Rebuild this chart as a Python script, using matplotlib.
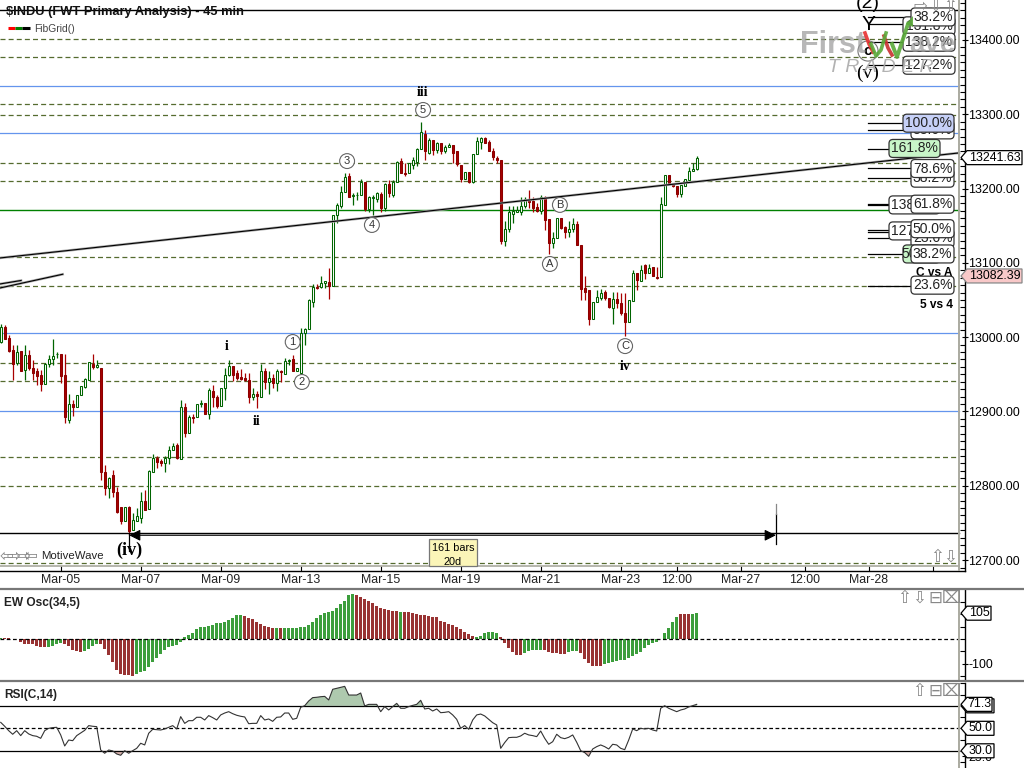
import matplotlib
matplotlib.use("Agg")
import matplotlib.pyplot as plt
from matplotlib.patches import FancyBboxPatch, Polygon
from matplotlib.ticker import MultipleLocator
import numpy as np

plt.rcParams['font.family'] = ['Liberation Sans', 'DejaVu Sans']

# candles, one value per 45 min bar
opens = [
    12994, 13014, 12999, 12983, 12965, 12981, 12956, 12976, 12959, 12955,
    12949, 12937, 12964, 12970, 12977, 12977, 12949, 12889, 12910, 12906,
    12922, 12933, 12942, 12964, 12960, 12958, 12818, 12797, 12814, 12792,
    12771, 12752, 12772, 12740, 12752, 12756, 12779, 12769, 12819, 12838,
    12833, 12831, 12837, 12848, 12855, 12836, 12906, 12871, 12893, 12892,
    12910, 12911, 12897, 12928, 12919, 12908, 12931, 12949, 12961, 12952,
    12946, 12945, 12943, 12919, 12923, 12920, 12954, 12939, 12945, 12938,
    12955, 12951, 12968, 12970, 12954, 12952, 13005, 13011, 13048, 13067,
    13067, 13073, 13074, 13069, 13164, 13177, 13196, 13217, 13190, 13191,
    13192, 13209, 13173, 13187, 13186, 13193, 13174, 13206, 13191, 13209,
    13237, 13221, 13221, 13232, 13236, 13253, 13274, 13248, 13266, 13252,
    13262, 13251, 13256, 13259, 13251, 13232, 13213, 13222, 13209, 13247,
    13263, 13268, 13263, 13251, 13241, 13239, 13130, 13145, 13166, 13169,
    13169, 13176, 13186, 13183, 13175, 13170, 13188, 13159, 13127, 13134,
    13160, 13148, 13142, 13146, 13152, 13124, 13066, 13063, 13025, 13048,
    13053, 13061, 13053, 13039, 13052, 13046, 13033, 13020, 13049, 13087,
    13075, 13097, 13086, 13094, 13081, 13081, 13178, 13218, 13208, 13204,
    13193, 13204, 13212, 13223, 13227]
highs = [
    13018, 13016, 13003, 12989, 12989, 12981, 12989, 12983, 12969, 12958,
    12956, 12965, 12976, 12998, 12980, 12977, 12978, 12923, 12915, 12922,
    12934, 12945, 12967, 12977, 12969, 12958, 12828, 12812, 12821, 12798,
    12772, 12772, 12773, 12763, 12770, 12792, 12794, 12821, 12843, 12840,
    12836, 12840, 12853, 12857, 12857, 12916, 12911, 12895, 12897, 12910,
    12916, 12911, 12931, 12936, 12922, 12931, 12958, 12969, 12961, 12956,
    12957, 12952, 12952, 12932, 12927, 12964, 12958, 12954, 12951, 12957,
    12956, 12972, 12970, 12976, 12959, 13013, 13013, 13051, 13072, 13072,
    13082, 13076, 13093, 13164, 13180, 13203, 13221, 13221, 13194, 13196,
    13213, 13209, 13190, 13191, 13195, 13195, 13207, 13211, 13212, 13237,
    13241, 13234, 13235, 13243, 13254, 13289, 13279, 13268, 13266, 13263,
    13262, 13259, 13261, 13259, 13251, 13232, 13222, 13222, 13247, 13269,
    13270, 13270, 13265, 13254, 13244, 13239, 13156, 13176, 13176, 13177,
    13188, 13189, 13198, 13189, 13180, 13191, 13190, 13159, 13141, 13161,
    13160, 13150, 13156, 13160, 13157, 13124, 13082, 13063, 13048, 13064,
    13065, 13064, 13053, 13061, 13061, 13059, 13059, 13050, 13090, 13087,
    13097, 13099, 13099, 13095, 13095, 13189, 13218, 13218, 13208, 13204,
    13205, 13213, 13229, 13234, 13244]
lows = [
    12992, 12997, 12980, 12942, 12963, 12955, 12942, 12956, 12942, 12936,
    12927, 12937, 12960, 12963, 12972, 12938, 12884, 12884, 12894, 12906,
    12922, 12931, 12942, 12957, 12958, 12808, 12788, 12784, 12785, 12763,
    12749, 12752, 12734, 12740, 12752, 12750, 12768, 12769, 12818, 12824,
    12827, 12818, 12829, 12848, 12836, 12836, 12865, 12871, 12885, 12892,
    12906, 12897, 12890, 12906, 12905, 12908, 12915, 12948, 12941, 12942,
    12942, 12941, 12912, 12915, 12905, 12920, 12930, 12923, 12932, 12927,
    12940, 12950, 12963, 12955, 12954, 12952, 12989, 13011, 13041, 13065,
    13066, 13066, 13052, 13069, 13153, 13174, 13196, 13188, 13178, 13185,
    13192, 13170, 13168, 13164, 13182, 13169, 13170, 13188, 13189, 13209,
    13221, 13217, 13221, 13227, 13230, 13253, 13239, 13247, 13245, 13248,
    13247, 13248, 13256, 13235, 13230, 13209, 13213, 13208, 13207, 13247,
    13253, 13261, 13250, 13239, 13234, 13126, 13123, 13141, 13153, 13168,
    13164, 13174, 13174, 13169, 13168, 13166, 13144, 13112, 13120, 13134,
    13145, 13134, 13135, 13142, 13124, 13050, 13050, 13017, 13025, 13048,
    13050, 13050, 13039, 13018, 13039, 13030, 13002, 13020, 13049, 13064,
    13075, 13078, 13086, 13082, 13078, 13081, 13178, 13208, 13202, 13189,
    13189, 13204, 13212, 13223, 13225]
closes = [
    13014, 12998, 12982, 12964, 12980, 12955, 12976, 12958, 12952, 12948,
    12937, 12964, 12970, 12975, 12978, 12948, 12892, 12910, 12906, 12922,
    12934, 12944, 12966, 12960, 12962, 12818, 12797, 12811, 12792, 12765,
    12752, 12772, 12739, 12754, 12759, 12779, 12768, 12820, 12838, 12832,
    12831, 12838, 12848, 12854, 12837, 12906, 12871, 12893, 12891, 12910,
    12911, 12897, 12929, 12919, 12908, 12931, 12949, 12961, 12949, 12945,
    12944, 12942, 12919, 12923, 12921, 12954, 12939, 12945, 12938, 12954,
    12953, 12968, 12969, 12955, 12959, 13005, 13011, 13050, 13068, 13066,
    13073, 13075, 13069, 13164, 13178, 13196, 13215, 13189, 13192, 13192,
    13209, 13173, 13189, 13189, 13194, 13174, 13206, 13194, 13209, 13236,
    13221, 13219, 13234, 13239, 13253, 13276, 13250, 13266, 13252, 13262,
    13250, 13256, 13259, 13248, 13233, 13213, 13222, 13209, 13247, 13264,
    13268, 13262, 13251, 13243, 13239, 13130, 13145, 13168, 13170, 13171,
    13176, 13186, 13182, 13174, 13170, 13188, 13158, 13127, 13134, 13161,
    13147, 13142, 13145, 13152, 13124, 13065, 13061, 13025, 13048, 13054,
    13060, 13053, 13040, 13052, 13046, 13032, 13020, 13050, 13087, 13077,
    13091, 13087, 13093, 13082, 13079, 13179, 13218, 13208, 13203, 13193,
    13205, 13213, 13224, 13227, 13241]

ew_osc = [
    3, 3, 3, 0, -1, -14, -20, -20, -20, -28,
    -33, -33, -33, -30, -20, -18, -20, -30, -45, -50,
    -53, -49, -42, -30, -19, -22, -41, -64, -95, -126,
    -141, -146, -146, -149, -144, -136, -130, -113, -94, -79,
    -61, -46, -33, -30, -24, -12, 9, 16, 26, 42,
    47, 50, 54, 58, 65, 66, 71, 79, 87, 96,
    98, 92, 85, 80, 68, 62, 54, 50, 46, 45,
    43, 45, 45, 45, 46, 47, 50, 57, 68, 84,
    98, 106, 111, 114, 125, 142, 156, 179, 182, 179,
    172, 161, 155, 145, 136, 127, 122, 119, 115, 113,
    111, 111, 108, 104, 102, 98, 98, 95, 91, 88,
    75, 68, 60, 57, 47, 39, 30, 19, 14, 7,
    14, 23, 28, 28, 26, 9, -18, -38, -52, -65,
    -65, -57, -47, -43, -43, -43, -43, -52, -57, -57,
    -61, -61, -54, -47, -47, -58, -81, -98, -108, -108,
    -108, -103, -96, -92, -88, -85, -85, -79, -69, -61,
    -52, -35, -24, -15, -11, 0, 23, 46, 71, 88,
    102, 102, 102, 102, 106]
# runs of bars drawn in the falling colour, the rest are green
ew_red_runs = [(1, 11), (16, 20), (25, 33), (61, 68), (70, 70), (89, 99),
               (101, 118), (125, 130), (136, 141), (145, 150), (170, 172)]

rsi = [
    55.3, 51.8, 47.9, 44.7, 47.9, 43.5, 47.9, 45.0, 43.5, 42.9,
    41.1, 47.9, 50.0, 50.6, 50.9, 44.1, 34.3, 39.6, 39.0, 43.5,
    45.9, 48.2, 52.4, 51.8, 51.5, 30.7, 27.8, 30.7, 29.9, 27.2,
    26.0, 30.1, 27.8, 30.1, 32.2, 36.7, 35.2, 45.6, 49.1, 48.8,
    48.5, 49.4, 50.9, 52.4, 49.4, 60.4, 54.4, 56.8, 56.8, 59.8,
    59.8, 57.4, 61.3, 59.5, 57.4, 61.9, 63.6, 64.8, 63.0, 61.6,
    60.7, 60.1, 54.1, 54.4, 54.4, 61.3, 57.4, 58.3, 56.2, 59.8,
    60.1, 63.6, 63.6, 58.0, 58.9, 68.7, 70.1, 74.3, 77.3, 77.6,
    78.1, 78.4, 75.2, 84.7, 85.6, 86.4, 87.3, 79.6, 79.6, 79.6,
    81.4, 69.9, 71.3, 71.3, 71.3, 64.8, 69.3, 66.3, 69.3, 72.2,
    67.8, 67.8, 69.3, 70.4, 71.3, 74.9, 67.2, 67.8, 65.4, 67.2,
    63.9, 64.2, 64.8, 61.9, 58.0, 50.0, 52.4, 49.1, 57.4, 61.9,
    62.7, 61.0, 58.0, 55.0, 53.0, 32.2, 37.3, 41.7, 42.0, 42.0,
    43.2, 45.6, 44.1, 43.5, 42.6, 47.6, 41.1, 35.8, 38.1, 44.7,
    41.7, 40.8, 42.0, 44.1, 37.6, 30.1, 28.4, 25.1, 31.6, 33.7,
    35.2, 33.7, 31.6, 35.8, 35.2, 32.2, 31.0, 39.6, 49.4, 47.9,
    50.0, 49.4, 50.0, 48.5, 47.6, 67.8, 70.1, 67.8, 66.3, 64.8,
    66.3, 67.2, 69.0, 70.1, 71.3]

# fib grid levels
dashed_levels = [13401, 13377, 13314, 13299, 13234.5, 13210, 13108, 13069,
                 12965, 12941, 12839, 12800, 12696]
blue_levels = [13338, 13275, 13005, 12901]
green_levels = [13170.5]
black_levels = [13440, 12736]

# trend lines: (bar, price), (bar, price)
trend_lines = [((-0.2, 13106.6), (239.6, 13248)),
               ((-0.2, 13066.2), (15.5, 13084.7)),
               ((-0.2, 13071.6), (5.1, 13076.3))]

# bars 32 to 193 are measured
measure_start, measure_end, measure_price = 32.1, 193.8, 12733.4

# x axis ticks
tick_bars = [15, 35, 55, 75, 95, 115, 135, 155, 169, 185, 201, 217, 233]
tick_labels = ['Mar-05', 'Mar-07', 'Mar-09', 'Mar-13', 'Mar-15', 'Mar-19', 'Mar-21',
               'Mar-23', '12:00', 'Mar-27', '12:00', 'Mar-28', '']

# wave labels: text, bar, price
circle_labels = [('1', 73, 12993.5), ('2', 75.3, 12939.7), ('3', 86.6, 13237),
                 ('4', 92.8, 13151), ('5', 105.6, 13305.8), ('A', 137.3, 13098.5),
                 ('B', 139.8, 13178), ('C', 156.1, 12988)]
serif_labels = [('i', 56.6, 12987, 10), ('ii', 64, 12886, 10), ('iii', 105.4, 13329, 10),
                ('iv', 156.2, 12961, 10), ('(iv)', 32.2, 12713.6, 13)]

# fib ratio stubs drawn from bar 217 towards the boxes
stub_prices = [13431.4, 13421.5, 13396.9, 13366.4, 13287.9, 13278.5, 13252.9, 13227.3,
               13213.9, 13179.3, 13177.9, 13144.3, 13142, 13133.1, 13111.6, 13069.3]
# text, price, left edge px, right edge px, fill; later ones cover earlier ones
fib_boxes = [('131.8%', 13419, 903, 955, 'white'),
             ('38.2%', 13431, 911, 955, 'white'),
             ('138.2%', 13397, 903, 955, 'white'),
             ('127.2%', 13366, 903, 955, 'white'),
             ('88.6%', 13279, 911, 954, 'white'),
             ('100.0%', 13288, 903, 954, '#c6d0f7'),
             ('161.8%', 13254, 889, 940, '#c8f5c8'),
             ('38.2%', 13214, 911, 954, 'white'),
             ('78.6%', 13227, 911, 954, 'white'),
             ('138.2%', 13178, 889, 940, 'white'),
             ('61.8%', 13179, 911, 954, 'white'),
             ('127.2%', 13143, 889, 940, 'white'),
             ('23.6%', 13133, 911, 954, 'white'),
             ('50.0%', 13146, 911, 954, 'white'),
             ('50.0%', 13112, 903, 940, '#c8f5c8'),
             ('38.2%', 13112, 911, 954, 'white'),
             ('23.6%', 13070, 911, 954, 'white')]

GREEN = '#006400'
RED = '#a80000'
OLIVE = '#556b2f'
BLUE = '#6495ed'
TICKFONT = 8.9
X_LEFT, X_FRAME = -0.175, 239.6


def make_axes(fig, top, bottom, ylim):
    """ Panel from pixel rows top to bottom, bars run at 4 px each. """
    ax = fig.add_axes([0, (768 - bottom) / 768, 965 / 1024, (bottom - top) / 768])
    ax.set_xlim(X_LEFT, 241.075)
    ax.set_ylim(*ylim)
    for side in ['left', 'top', 'bottom']:
        ax.spines[side].set_visible(False)
    ax.spines['right'].set_linewidth(1.0)
    ax.yaxis.tick_right()
    ax.set_xticks([])
    ax.tick_params(axis='y', which='major', direction='inout', length=5, width=0.8,
                   labelsize=TICKFONT, pad=0)
    ax.tick_params(axis='y', which='minor', direction='in', length=3.5, width=0.8)
    ax.axvline(X_FRAME, color='#aaaaa0', lw=1.4, zorder=6)
    return ax


def hline(ax, value, **kwargs):
    ax.plot([X_LEFT, X_FRAME], [value, value], **kwargs)


def plot_candles(ax):
    x = np.arange(len(opens))
    o, c = np.array(opens), np.array(closes)
    up = c >= o
    colors = np.where(up, GREEN, RED)
    ax.vlines(x, lows, highs, colors=colors, lw=0.9, zorder=3)
    bottoms = np.minimum(o, c)
    heights = np.maximum(np.abs(c - o), 0.6)
    ax.bar(x[up], heights[up], bottom=bottoms[up], width=0.6, facecolor='white',
           edgecolor=GREEN, linewidth=0.75, zorder=4)
    ax.bar(x[~up], heights[~up], bottom=bottoms[~up], width=0.6, facecolor=RED,
           edgecolor='#8c0000', linewidth=0.75, zorder=4)


def plot_main(ax):
    for level in dashed_levels:
        hline(ax, level, color=OLIVE, lw=0.9, ls=(0, (4, 2.5)), zorder=1)
    for level in blue_levels:
        hline(ax, level, color=BLUE, lw=0.9, zorder=1)
    for level in green_levels:
        hline(ax, level, color='#008000', lw=1.0, zorder=1)
    for level in black_levels:
        hline(ax, level, color='black', lw=1.0, zorder=2)
    # gray bottom frame line a few pixels over the date axis
    hline(ax, 12692, color='#aaaaa0', lw=1.2, zorder=2)

    plot_candles(ax)

    for (x0, y0), (x1, y1) in trend_lines:
        ax.plot([x0, x1], [y0, y1], color='#aaaaaa', lw=1.8, zorder=5)
        ax.plot([x0, x1], [y0, y1], color='black', lw=0.8, zorder=5)

    # bar count measure
    ax.annotate('', xy=(measure_start, measure_price), xytext=(measure_end, measure_price),
                arrowprops=dict(arrowstyle='<|-|>', color='black', lw=0.8, mutation_scale=17,
                                shrinkA=0, shrinkB=0), zorder=5)
    ax.plot([measure_start, measure_start], [12736, 12712], color='black', lw=0.9, zorder=5)
    ax.plot([measure_end, measure_end], [12722, 12762], color='black', lw=0.9, zorder=5)
    ax.plot([measure_end, measure_end], [12762, 12775], color='#888888', lw=0.9, zorder=5)

    for text, bar, price in circle_labels:
        ax.text(bar, price, text, ha='center', va='center', fontsize=8, color='#333333', zorder=7,
                bbox=dict(boxstyle='circle,pad=0.22', fc='white', ec='#666666', lw=0.8))
    for text, bar, price, size in serif_labels:
        ax.text(bar, price, text, ha='center', va='center', fontsize=size, fontweight='bold',
                family='Liberation Serif', zorder=7)

    ax.set_xticks(tick_bars)
    ax.set_xticklabels(tick_labels, fontsize=TICKFONT, color='#222222')
    ax.tick_params(axis='x', direction='in', length=3.6, width=0.8, pad=2)
    ax.spines['bottom'].set_visible(True)
    ax.spines['bottom'].set_linewidth(1.0)
    ax.set_yticks(np.arange(12700, 13500, 100))
    ax.set_yticklabels(['%.2f' % t for t in np.arange(12700, 13500, 100)])
    ax.yaxis.set_minor_locator(MultipleLocator(10))


def plot_osc(ax):
    colors = ['#3c9e3c'] * len(ew_osc)
    for start, end in ew_red_runs:
        for i in range(start, end + 1):
            colors[i] = '#993333'
    ax.bar(np.arange(len(ew_osc)), ew_osc, width=0.72, color=colors, zorder=3)
    hline(ax, 0, color='black', lw=0.9, ls=(0, (3, 2)), zorder=4)
    ax.set_yticks([-100])
    ax.set_yticklabels(['-100'])
    ax.yaxis.set_minor_locator(MultipleLocator(50))


def plot_rsi(ax):
    x = np.arange(len(rsi))
    values = np.array(rsi)
    ax.fill_between(x, values, 70, where=values >= 70, interpolate=True, color='#aec9ae', lw=0, zorder=2)
    ax.fill_between(x, values, 30, where=values <= 30, interpolate=True, color='#d9b3ae', lw=0, zorder=2)
    hline(ax, 70, color='black', lw=0.9, zorder=3)
    hline(ax, 50, color='black', lw=0.9, ls=(0, (3, 2)), zorder=3)
    hline(ax, 30, color='black', lw=0.9, zorder=3)
    ax.plot(x, values, color='#333333', lw=0.8, zorder=4)
    ax.set_yticks([25, 70])
    ax.set_yticklabels(['25.0', ''])
    ax.yaxis.set_minor_locator(MultipleLocator(10))


def row_of(ax, value):
    """ Pixel row of a value of this axes. """
    return 768 - ax.transData.transform((0, value))[1]


def price_tag(ov, ax, value, text, right, fc='white', ec='black', z=8):
    y = row_of(ax, value)
    ov.add_patch(Polygon([(961, y), (967, y - 7), (right, y - 7), (right, y + 7), (967, y + 7)],
                         closed=True, fc=fc, ec=ec, lw=0.9, zorder=z))
    ov.text((967 + right) / 2, y, text, ha='center', va='center', fontsize=TICKFONT, zorder=z + 0.1)


def draw_overlay(ov, main_ax, ew_ax, rsi_ax):
    # panel separators
    ov.plot([0, 1024], [589, 589], color='#777777', lw=1.6)
    ov.plot([0, 1024], [681, 681], color='#777777', lw=1.6)

    # text headers
    ov.text(6, 11.5, '$INDU (FWT Primary Analysis) - 45 min', fontsize=9.3, fontweight='bold',
            va='center', color='#111111', zorder=10)
    ov.plot([8, 15], [28, 28], color='red', lw=2.2, solid_capstyle='butt')
    ov.plot([15, 22], [28, 28], color='green', lw=2.2, solid_capstyle='butt')
    ov.plot([22, 30], [28, 28], color='black', lw=2.2, solid_capstyle='butt')
    ov.text(34, 29, 'FibGrid()', fontsize=7.4, va='center', color='#444444')
    ov.text(4, 603, 'EW Osc(34,5)', fontsize=8.6, fontweight='bold', va='center', color='#222222')
    ov.text(4, 695, 'RSI(C,14)', fontsize=8.6, fontweight='bold', va='center', color='#222222')
    ov.text(41, 556, 'MotiveWave', fontsize=8.2, va='center', color='#222222')

    # stubs and boxes on the right
    for price in stub_prices:
        y = row_of(main_ax, price)
        ov.plot([868, 912], [y, y], color='black', lw=0.9, zorder=3)
    for i, (text, price, left, right, fc) in enumerate(fib_boxes):
        y = row_of(main_ax, price)
        ov.add_patch(FancyBboxPatch((left, y - 9), right - left, 18,
                                    boxstyle='round,pad=0,rounding_size=4',
                                    fc=fc, ec='#333333', lw=0.9, zorder=4 + i * 0.01))
        ov.text((left + right) / 2, y, text, ha='center', va='center', fontsize=10,
                color='#222222', zorder=4 + i * 0.01 + 0.001)
    ov.text(953, 273, 'C vs A', ha='right', va='center', fontsize=8.6, fontweight='bold', zorder=3.9)
    ov.text(953, 305, '5 vs 4', ha='right', va='center', fontsize=8.6, fontweight='bold', zorder=3.9)

    # tags on the price axes
    price_tag(ov, main_ax, 13241.63, '13241.63', 1022)
    price_tag(ov, main_ax, 13082.39, '13082.39', 1022, fc='#f8c8c8', ec='#888888')
    price_tag(ov, ew_ax, 105, '105', 991)
    price_tag(ov, rsi_ax, 70, '70.0', 994, z=7)
    price_tag(ov, rsi_ax, 71.3, '71.3', 992)
    price_tag(ov, rsi_ax, 50, '50.0', 994)
    price_tag(ov, rsi_ax, 30, '30.0', 994)

    # wave labels top right
    ov.text(868, 3, '(2)', ha='center', va='center', fontsize=14, zorder=6)
    ov.text(868, 25, 'Y', ha='center', va='center', fontsize=15, zorder=6)
    ov.text(868, 51, 'c', ha='center', va='center', fontsize=11, fontweight='bold', zorder=6,
            bbox=dict(boxstyle='circle,pad=0.2', fc='none', ec='#777777', lw=0.8))
    ov.text(868, 73, '(v)', ha='center', va='center', fontsize=14, family='Liberation Serif', zorder=6)

    # the bar count box
    ov.add_patch(plt.Rectangle((429, 539), 48, 27, fc='#fbf5b8', ec='#777777', lw=0.9, zorder=5))
    ov.text(453, 548, '161 bars', ha='center', va='center', fontsize=7.8, zorder=6)
    ov.text(453, 562, '20d', ha='center', va='center', fontsize=7.8, zorder=6)

    # logo
    ov.text(800, 45, 'First', fontsize=22, fontweight='bold', va='center', color='#999999', alpha=0.7, zorder=11)
    ov.text(909, 45, 'ave', fontsize=20, fontweight='bold', va='center', color='#999999', alpha=0.7, zorder=11)
    ov.plot([865, 869, 873], [33, 44, 52], color='#e83030', lw=2.6, alpha=0.9, zorder=11)
    ov.plot([884, 888, 892], [36, 48, 55], color='#c83030', lw=2.6, alpha=0.9, zorder=11)
    ov.plot([871, 876, 881, 886], [44, 56, 50, 33], color='#5aaa3a', lw=2.6, alpha=0.9, zorder=11)
    ov.plot([892, 897, 902, 908], [44, 57, 42, 24], color='#5aaa3a', lw=2.8, alpha=0.9, zorder=11)
    ov.add_patch(Polygon([(906, 24), (913, 16), (913, 27)], closed=True, fc='#5aaa3a', ec='none', alpha=0.9, zorder=11))
    ov.text(881, 68, 'T R A D E R', ha='center', va='center', fontsize=14, style='italic',
            color='#aaaaaa', alpha=0.9, zorder=11)

    # little window buttons
    icons = [(6, 556, '⇦'), (13, 556, '⇨'), (23, 556, '⇨'), (31, 556, '⇦'), (937, 557, '⇧'), (950, 557, '⇩'),
             (920, 6, '⇨'), (935, 6, '⇩'), (950, 6, '⇧'),
             (904, 598, '⇧'), (919, 598, '⇩'), (935, 598, '⊟'), (951, 598, '⌧'),
             (919, 691, '⇧'), (935, 691, '⊟'), (951, 691, '⌧')]
    for x, y, glyph in icons:
        ov.text(x, y, glyph, ha='center', va='center', fontsize=12, color='#888888',
                family='DejaVu Sans', zorder=12)


def main():
    fig = plt.figure(figsize=(10.24, 7.68), dpi=100)

    main_ax = make_axes(fig, 0, 571, (12685.3, 13453.8))
    ew_ax = make_axes(fig, 590, 680, (-166.9, 199.4))
    rsi_ax = make_axes(fig, 683, 768, (14.7, 90.3))

    plot_main(main_ax)
    plot_osc(ew_ax)
    plot_rsi(rsi_ax)

    ov = fig.add_axes([0, 0, 1, 1], zorder=20)
    ov.set_xlim(0, 1024)
    ov.set_ylim(768, 0)
    ov.axis('off')
    draw_overlay(ov, main_ax, ew_ax, rsi_ax)

    fig.savefig('out.png', dpi=100)


if __name__ == '__main__':
    main()
